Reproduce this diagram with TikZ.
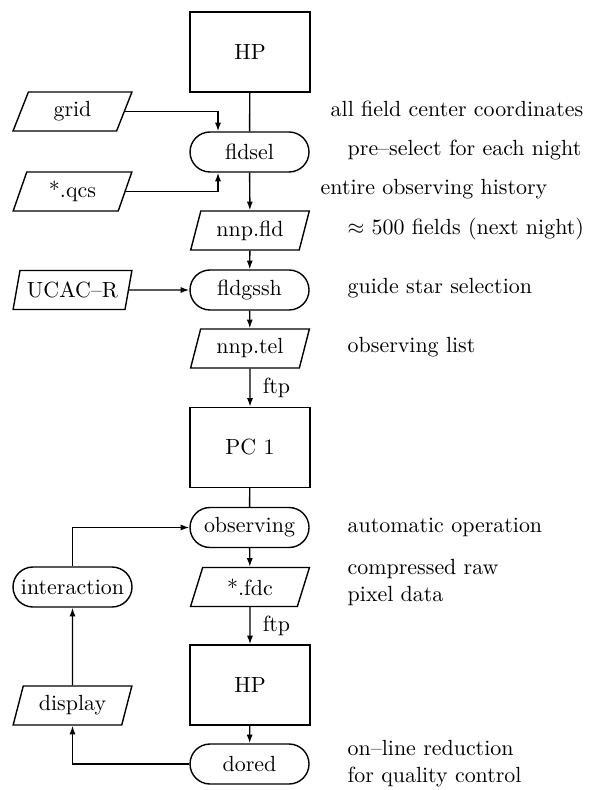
\documentclass[tikz,border=0pt]{standalone}
\usetikzlibrary{shapes.geometric,arrows.meta,calc}
\begin{document}
\begin{tikzpicture}[
  x=0.465pt, y=-0.465pt,
  line width=0.65pt,
  every node/.style={font=\fontsize{10.2}{12}\selectfont},
  hostbox/.style={draw, rectangle, minimum width=120*0.465pt, minimum height=80*0.465pt, inner sep=0pt},
  procbox/.style={draw, rectangle, rounded corners=9.3pt, minimum width=119*0.465pt, minimum height=40*0.465pt, inner sep=0pt},
  databox/.style={draw, trapezium, trapezium left angle=73, trapezium right angle=107,
    trapezium stretches=true, minimum width=119*0.465pt, minimum height=39*0.465pt, inner sep=1pt},
  note/.style={anchor=base west, inner sep=0pt},
  flow/.style={-{Latex[length=4pt,width=2.8pt]}},
  ftplabel/.style={midway, anchor=west, inner sep=0pt, xshift=5.6pt}
]
\useasboundingbox (0,0) rectangle (590,790);

% main processing column
\node[hostbox] (hp1) at (250,52) {HP};
\node[procbox] (fldsel) at (249.5,152) {fldsel};
\node[databox] (nnpfld) at (250,230.5) {nnp.fld};
\node[procbox] (fldgssh) at (249.5,290) {fldgssh};
\node[databox] (nnptel) at (250,348.5) {nnp.tel};
\node[hostbox] (pc1) at (250,447.5) {PC 1};
\node[procbox] (observing) at (249.5,527.5) {observing};
\node[databox] (fdc) at (250,587) {*.fdc};
\node[hostbox] (hp2) at (250,685) {HP};
\node[procbox] (dored) at (249.5,764) {dored};

% inputs and the interactive loop on the left
\node[databox] (grid) at (72.5,111.5) {grid};
\node[databox] (qcs) at (72.5,191.5) {*.qcs};
\node[databox] (ucac) at (72.5,290) {UCAC--R};
\node[procbox] (interaction) at (72.5,587) {interaction};
\node[databox] (display) at (72.5,705.5) {display};

% comments on the right
\node[note] (c1) at (330,117) {all field center coordinates};
\node[note] (c2) at (347,156) {pre--select for each night};
\node[note] (c3) at (320,195) {entire observing history};
\node[note] (c4) at (347,235) {$\approx$ 500 fields (next night)};
\node[note] (c5) at (347,294) {guide star selection};
\node[note] (c6) at (347,353) {observing list};
\node[note] (c7) at (347,532) {automatic operation};
\node[note] (c8) at (347,574) {compressed raw};
\node[note] (c9) at (347,601) {pixel data};
\node[note] (c10) at (347,755) {on--line reduction};
\node[note] (c11) at (347,782) {for quality control};

% connectors
\draw (hp1) -- (fldsel);
\draw[flow] (fldsel) -- (nnpfld);
\draw[flow] (nnpfld) -- (fldgssh);
\draw[flow] (fldgssh) -- (nnptel);
\draw[flow] (nnptel) -- node[ftplabel] {ftp} (pc1);
\draw (pc1) -- (observing);
\draw[flow] (observing) -- (fdc);
\draw[flow] (fdc) -- node[ftplabel] {ftp} (hp2);
\draw[flow] (hp2) -- (dored);

\draw[flow] (grid.east) -| ($(fldsel.north)+(-31.5,0)$);
\draw[flow] (qcs.east) -| ($(fldsel.south)+(-31.5,0)$);
\draw[flow] (ucac.east) -- (fldgssh.west);

\draw[flow] (dored.west) -| (display.south);
\draw[flow] (display) -- (interaction);
\draw[flow] (interaction.north) |- (observing.west);
\end{tikzpicture}
\end{document}
